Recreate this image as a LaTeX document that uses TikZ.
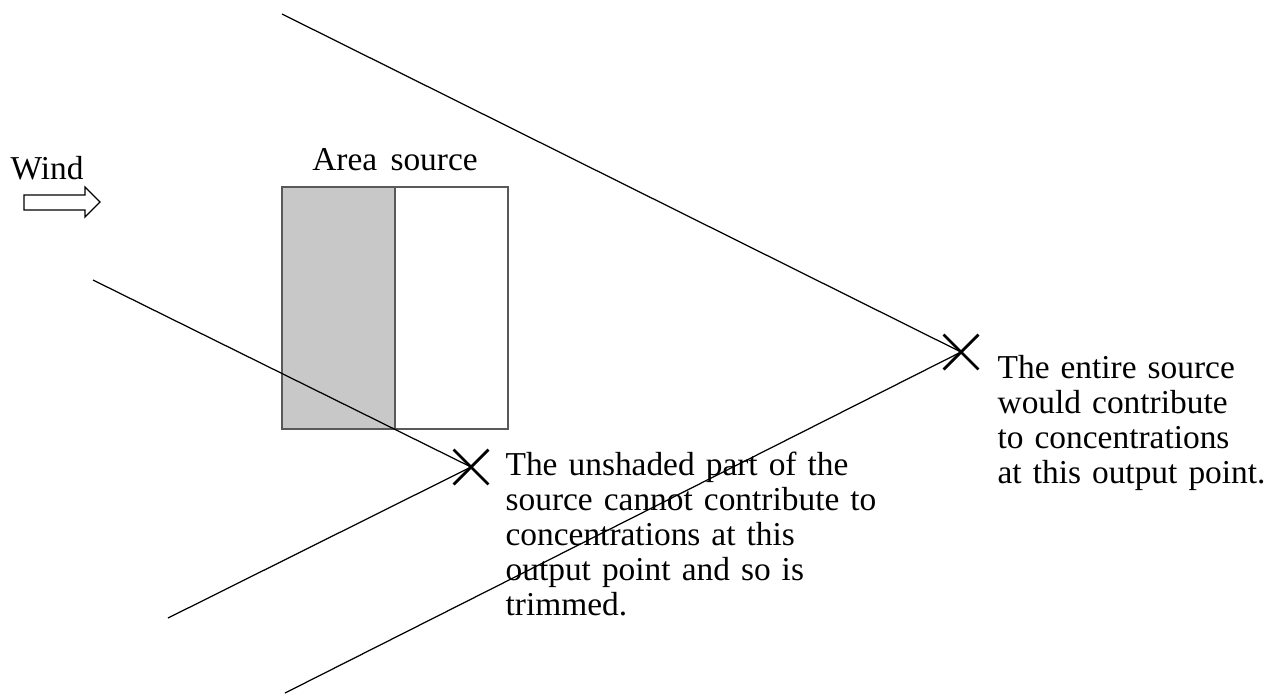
\documentclass[tikz,border=0pt]{standalone}
\usepackage{fontspec}
\setmainfont{Liberation Serif}
\usetikzlibrary{positioning,shapes.misc}
\definecolor{areagray}{HTML}{C8C8C8}
\newcommand\notefont{\fontsize{9.5}{9.96}\selectfont\spaceskip=0.33em plus 0.1em\relax}

\begin{document}
\begin{tikzpicture}[x=0.01cm,y=-0.01cm,line width=0.35pt,
  font=\notefont,
  outpt/.style={cross out,draw,line width=0.8pt,minimum size=0.32cm,inner sep=0pt},
  note/.style={anchor=north west,align=left,inner sep=0pt}]
\useasboundingbox (0,0) rectangle (1277,693);
\fill [areagray] (282,187) rectangle (395,429);
\draw [black!65,line width=0.5pt] (282,187) rectangle (508,429) (395,187) -- (395,429);
\node (area) at (395,187) [above=1pt] {Area\hspace{0.4em}source};
\node (wind) at (10,179) [anchor=base west,inner sep=0pt] {Wind};
\draw (24,195) -- (85,195) -- (85,187) -- (100,202) -- (85,217) -- (85,210) -- (24,210) -- cycle;
\node (near) [outpt] at (471,467) {};
\node (far) [outpt] at (961,352) {};
\coordinate (a1) at (93,280);
\coordinate (a2) at (168,618);
\coordinate (b1) at (282,14);
\coordinate (b2) at (285,693);
\draw (a1) -- (near.center) -- (a2);
\draw (b1) -- (far.center) -- (b2);
\node (note1) [note] at (505,451) {The unshaded part of the\\source cannot contribute to\\concentrations at this\\output point and so is\\trimmed.};
\node (note2) [note] at (997,355) {The entire source\\would contribute\\to concentrations\\at this output point.};
\end{tikzpicture}
\end{document}
